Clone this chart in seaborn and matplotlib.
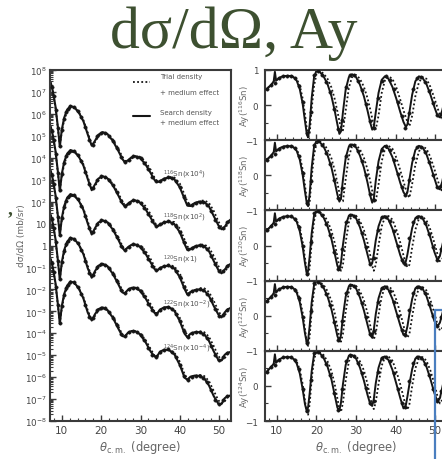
import numpy as np
import pandas as pd
import matplotlib
matplotlib.use("Agg")
import matplotlib.pyplot as plt
import seaborn as sns
from matplotlib.lines import Line2D
from matplotlib.ticker import FixedLocator, MultipleLocator, FuncFormatter, LogLocator, NullFormatter

# ---------------- data ----------------
isotopes = ["116", "118", "120", "122", "124"]
xs_scale_exp = [4, 2, 0, -2, -4]          # cross sections shown x10^k
xs_labels = [r"$^{116}$Sn(x10$^{4}$)", r"$^{118}$Sn(x10$^{2}$)", r"$^{120}$Sn(x1)",
             r"$^{122}$Sn(x10$^{-2}$)", r"$^{124}$Sn(x10$^{-4}$)"]
xs_label_theta = [35.7, 35.7, 35.7, 35.7, 35.7]
xs_label_logy = [3.25, 1.29, -0.63, -2.68, -4.65]

# theta grid of calculated cross sections (deg), values log10(mb/sr), unscaled
th_xs = [7.2, 7.8, 8.4, 9.0, 9.5, 10.0, 10.6, 11.3, 12.2, 13.2, 14.3, 15.5, 16.6, 17.6, 18.4, 19.3,
         20.4, 21.6, 23.0, 24.4, 25.4, 26.0, 26.8, 27.7, 28.6, 29.8, 31.2, 32.6, 33.6, 34.3, 35.0, 36.0,
         37.2, 38.6, 40.0, 41.2, 41.9, 42.7, 43.8, 45.0, 46.2, 47.4, 48.6, 49.8, 50.6, 51.4, 52.2, 53.0]
xs_search_116 = [3.42, 2.97, 2.33, 1.40, 0.50, 1.28, 1.82, 2.17, 2.36, 2.30, 2.07, 1.66, 1.06, 0.55, 0.76, 1.05,
                 1.17, 1.08, 0.76, 0.30, -0.06, -0.20, -0.12, 0.02, 0.07, 0.0, -0.28, -0.70, -1.02, -1.11, -1.06, -0.95,
                 -0.90, -0.98, -1.35, -1.88, -2.18, -2.20, -2.06, -2.00, -2.02, -2.22, -2.65, -3.08, -3.26, -3.15, -2.92, -2.80]
xs_search_118 = [3.41, 2.96, 2.31, 1.37, 0.47, 1.26, 1.81, 2.16, 2.35, 2.29, 2.06, 1.64, 1.03, 0.52, 0.77, 1.05,
                 1.16, 1.06, 0.74, 0.27, -0.09, -0.21, -0.10, 0.02, 0.06, -0.03, -0.32, -0.74, -1.05, -1.12, -1.04, -0.94,
                 -0.91, -1.02, -1.40, -1.93, -2.20, -2.16, -2.04, -2.00, -2.03, -2.26, -2.70, -3.12, -3.27, -3.10, -2.91, -2.83]
xs_search_120 = [3.40, 2.95, 2.30, 1.35, 0.45, 1.25, 1.80, 2.15, 2.34, 2.28, 2.05, 1.62, 1.00, 0.50, 0.78, 1.05,
                 1.15, 1.05, 0.72, 0.25, -0.12, -0.22, -0.08, 0.03, 0.05, -0.05, -0.35, -0.78, -1.08, -1.13, -1.02, -0.94,
                 -0.92, -1.05, -1.45, -1.98, -2.23, -2.12, -2.03, -2.00, -2.05, -2.30, -2.75, -3.15, -3.28, -3.05, -2.90, -2.85]
xs_search_122 = [3.39, 2.94, 2.29, 1.33, 0.44, 1.24, 1.79, 2.15, 2.35, 2.29, 2.05, 1.60, 0.96, 0.53, 0.82, 1.08,
                 1.17, 1.05, 0.70, 0.22, -0.14, -0.18, -0.02, 0.07, 0.08, -0.05, -0.38, -0.82, -1.08, -1.08, -0.92, -0.82,
                 -0.80, -0.98, -1.45, -2.02, -2.18, -2.02, -1.95, -1.95, -2.05, -2.35, -2.82, -3.22, -3.24, -2.98, -2.88, -2.85]
xs_search_124 = [3.38, 2.93, 2.28, 1.32, 0.43, 1.24, 1.79, 2.15, 2.36, 2.30, 2.05, 1.58, 0.94, 0.58, 0.86, 1.10,
                 1.18, 1.05, 0.70, 0.20, -0.13, -0.15, 0.02, 0.10, 0.10, -0.04, -0.38, -0.84, -1.06, -1.02, -0.84, -0.75,
                 -0.76, -0.96, -1.45, -2.02, -2.12, -1.98, -1.93, -1.94, -2.06, -2.38, -2.86, -3.22, -3.22, -2.96, -2.86, -2.84]
xs_trial_116 = [3.42, 2.94, 2.28, 1.34, 0.60, 1.18, 1.72, 2.07, 2.28, 2.27, 2.08, 1.71, 1.14, 0.60, 0.70, 0.97,
                1.13, 1.09, 0.83, 0.40, 0.04, -0.14, -0.17, -0.04, 0.06, 0.05, -0.16, -0.55, -0.92, -1.10, -1.11, -0.98,
                -0.87, -0.90, -1.18, -1.68, -2.00, -2.18, -2.12, -1.98, -1.94, -2.06, -2.42, -2.90, -3.16, -3.24, -3.02, -2.82]
xs_trial_118 = [3.41, 2.93, 2.26, 1.32, 0.57, 1.16, 1.71, 2.06, 2.27, 2.26, 2.07, 1.70, 1.12, 0.57, 0.70, 0.97,
                1.12, 1.08, 0.81, 0.37, 0.01, -0.16, -0.16, -0.03, 0.05, 0.03, -0.19, -0.58, -0.95, -1.11, -1.10, -0.97,
                -0.88, -0.93, -1.23, -1.73, -2.04, -2.18, -2.09, -1.97, -1.95, -2.09, -2.47, -2.94, -3.19, -3.22, -2.98, -2.82]
xs_trial_120 = [3.40, 2.92, 2.25, 1.30, 0.55, 1.15, 1.70, 2.05, 2.26, 2.25, 2.06, 1.68, 1.10, 0.55, 0.70, 0.98,
                1.12, 1.07, 0.80, 0.35, -0.02, -0.18, -0.15, -0.02, 0.05, 0.02, -0.22, -0.62, -0.98, -1.12, -1.08, -0.95,
                -0.88, -0.95, -1.28, -1.78, -2.08, -2.18, -2.06, -1.95, -1.95, -2.12, -2.52, -2.98, -3.22, -3.20, -2.95, -2.82]
xs_trial_122 = [3.39, 2.91, 2.24, 1.28, 0.52, 1.13, 1.69, 2.05, 2.26, 2.25, 2.05, 1.66, 1.07, 0.57, 0.74, 1.01,
                1.13, 1.06, 0.78, 0.32, -0.05, -0.16, -0.10, 0.02, 0.07, 0.01, -0.26, -0.68, -1.02, -1.10, -1.02, -0.88,
                -0.82, -0.92, -1.30, -1.84, -2.10, -2.12, -2.00, -1.92, -1.95, -2.16, -2.58, -3.04, -3.22, -3.14, -2.93, -2.83]
xs_trial_124 = [3.38, 2.90, 2.23, 1.27, 0.50, 1.12, 1.69, 2.05, 2.27, 2.26, 2.05, 1.64, 1.04, 0.60, 0.78, 1.03,
                1.14, 1.06, 0.77, 0.30, -0.06, -0.13, -0.05, 0.06, 0.09, 0.02, -0.28, -0.72, -1.03, -1.06, -0.94, -0.80,
                -0.76, -0.88, -1.30, -1.86, -2.08, -2.06, -1.96, -1.90, -1.95, -2.18, -2.62, -3.06, -3.20, -3.10, -2.90, -2.82]

th_xs_exp = [7.5, 8.0, 8.5, 9.0, 9.5, 10.0, 10.5, 11.0, 11.5, 12.0, 13, 14, 15, 16, 17, 18, 19, 20, 21, 22,
             23, 24, 25, 26, 27, 28, 29, 30, 31, 32, 33, 34, 35, 36, 37, 38, 39, 40, 41, 42,
             43, 44, 45, 46, 47, 48, 49, 50, 51, 52]
xs_exp_116 = [3.22, 2.82, 2.18, 1.35, 0.55, 1.28, 1.78, 2.07, 2.24, 2.34, 2.32, 2.14, 1.85, 1.40, 0.82, 0.60, 0.97, 1.15, 1.14, 1.00,
              0.76, 0.44, 0.05, -0.18, -0.08, 0.06, 0.05, -0.03, -0.24, -0.52, -0.86, -1.08, -1.06, -0.96, -0.90, -0.93, -1.08, -1.35, -1.78, -2.12,
              -2.16, -2.06, -2.00, -2.02, -2.14, -2.42, -2.82, -3.15, -3.22, -2.95]
xs_exp_118 = [3.21, 2.81, 2.16, 1.32, 0.52, 1.26, 1.76, 2.06, 2.23, 2.33, 2.31, 2.13, 1.83, 1.37, 0.80, 0.61, 0.98, 1.15, 1.13, 0.99,
              0.74, 0.42, 0.02, -0.19, -0.06, 0.06, 0.04, -0.05, -0.27, -0.56, -0.89, -1.10, -1.04, -0.94, -0.90, -0.96, -1.12, -1.40, -1.83, -2.16,
              -2.12, -2.04, -1.99, -2.03, -2.17, -2.46, -2.86, -3.18, -3.18, -2.93]
xs_exp_120 = [3.20, 2.80, 2.15, 1.30, 0.50, 1.25, 1.75, 2.05, 2.22, 2.32, 2.30, 2.12, 1.82, 1.35, 0.78, 0.62, 0.98, 1.14, 1.12, 0.98,
              0.72, 0.40, 0.00, -0.20, -0.05, 0.05, 0.03, -0.08, -0.30, -0.60, -0.92, -1.12, -1.02, -0.93, -0.90, -0.98, -1.15, -1.45, -1.88, -2.20,
              -2.08, -2.02, -1.98, -2.05, -2.20, -2.50, -2.90, -3.20, -3.15, -2.92]
xs_exp_122 = [3.19, 2.79, 2.14, 1.28, 0.48, 1.24, 1.74, 2.05, 2.22, 2.33, 2.31, 2.11, 1.80, 1.30, 0.75, 0.66, 1.01, 1.16, 1.12, 0.97,
              0.70, 0.37, -0.04, -0.17, 0.02, 0.08, 0.05, -0.07, -0.32, -0.65, -0.96, -1.10, -0.94, -0.84, -0.80, -0.90, -1.12, -1.45, -1.92, -2.16,
              -2.00, -1.95, -1.95, -2.03, -2.22, -2.56, -2.98, -3.22, -3.08, -2.90]
xs_exp_124 = [3.18, 2.78, 2.13, 1.27, 0.47, 1.24, 1.74, 2.05, 2.22, 2.34, 2.32, 2.12, 1.80, 1.28, 0.72, 0.70, 1.04, 1.17, 1.13, 0.97,
              0.70, 0.36, -0.05, -0.14, 0.06, 0.10, 0.07, -0.06, -0.32, -0.66, -0.98, -1.06, -0.86, -0.76, -0.74, -0.86, -1.10, -1.45, -1.94, -2.12,
              -1.98, -1.93, -1.93, -2.02, -2.24, -2.60, -3.02, -3.22, -3.05, -2.88]

# analyzing power Ay
th_ay = [7.0, 7.8, 8.6, 9.2, 9.5, 9.8, 10.4, 11.2, 12.2, 13.2,
         14.2, 15.0, 15.8, 16.5, 17.1, 17.6, 17.9, 18.3, 18.8, 19.4,
         20.0, 20.8, 21.8, 22.8, 23.8, 24.6, 25.3, 25.8, 26.2, 26.7,
         27.4, 28.2, 29.0, 30.0, 31.0, 32.0, 32.9, 33.6, 34.1, 34.5,
         35.0, 35.7, 36.5, 37.3, 38.2, 39.2, 40.2, 41.2, 42.0, 42.6,
         43.0, 43.5, 44.2, 45.0, 45.9, 46.8, 47.8, 48.8, 49.8, 50.6,
         51.2, 51.8, 52.5, 53.0]
ay_search_116 = [0.42, 0.50, 0.58, 0.68, 0.95, 0.70, 0.76, 0.81, 0.83, 0.83,
                 0.80, 0.70, 0.45, 0.05, -0.45, -0.85, -0.92, -0.55, 0.20, 0.80,
                 0.98, 0.95, 0.82, 0.60, 0.25, -0.15, -0.55, -0.82, -0.75, -0.20,
                 0.45, 0.80, 0.88, 0.80, 0.58, 0.25, -0.15, -0.50, -0.70, -0.62,
                 -0.20, 0.35, 0.72, 0.82, 0.75, 0.52, 0.18, -0.20, -0.48, -0.62,
                 -0.55, -0.20, 0.30, 0.68, 0.82, 0.78, 0.60, 0.30, -0.05, -0.30,
                 -0.35, -0.15, 0.20, 0.40]
ay_search_118 = [0.40, 0.48, 0.57, 0.66, 0.93, 0.68, 0.75, 0.80, 0.83, 0.83,
                 0.80, 0.70, 0.44, 0.03, -0.46, -0.82, -0.88, -0.52, 0.22, 0.82,
                 0.98, 0.95, 0.82, 0.58, 0.22, -0.18, -0.55, -0.75, -0.66, -0.12,
                 0.50, 0.82, 0.88, 0.80, 0.56, 0.22, -0.20, -0.58, -0.78, -0.66,
                 -0.15, 0.40, 0.75, 0.84, 0.76, 0.52, 0.16, -0.22, -0.48, -0.58,
                 -0.48, -0.12, 0.36, 0.72, 0.84, 0.80, 0.60, 0.28, -0.08, -0.36,
                 -0.40, -0.18, 0.22, 0.42]
ay_search_120 = [0.38, 0.47, 0.56, 0.65, 0.92, 0.68, 0.75, 0.80, 0.83, 0.83,
                 0.79, 0.68, 0.40, -0.02, -0.50, -0.83, -0.72, -0.30, 0.35, 0.86,
                 0.99, 0.94, 0.80, 0.55, 0.18, -0.22, -0.58, -0.70, -0.50, 0.02,
                 0.58, 0.85, 0.88, 0.78, 0.52, 0.15, -0.25, -0.55, -0.50, -0.25,
                 0.15, 0.55, 0.80, 0.84, 0.74, 0.48, 0.10, -0.28, -0.52, -0.45,
                 -0.25, 0.08, 0.50, 0.78, 0.84, 0.78, 0.56, 0.22, -0.18, -0.42,
                 -0.30, 0.00, 0.35, 0.50]
ay_search_122 = [0.36, 0.46, 0.55, 0.64, 0.90, 0.66, 0.74, 0.79, 0.82, 0.82,
                 0.78, 0.66, 0.38, -0.04, -0.50, -0.80, -0.70, -0.28, 0.38, 0.88,
                 0.99, 0.94, 0.80, 0.55, 0.18, -0.22, -0.58, -0.73, -0.55, -0.02,
                 0.55, 0.84, 0.88, 0.78, 0.52, 0.15, -0.25, -0.55, -0.63, -0.40,
                 0.05, 0.50, 0.78, 0.84, 0.74, 0.48, 0.10, -0.28, -0.55, -0.50,
                 -0.30, 0.05, 0.48, 0.78, 0.84, 0.78, 0.56, 0.22, -0.15, -0.30,
                 -0.20, 0.05, 0.38, 0.52]
ay_search_124 = [0.35, 0.45, 0.55, 0.63, 0.90, 0.66, 0.74, 0.79, 0.82, 0.82,
                 0.77, 0.64, 0.35, -0.08, -0.52, -0.74, -0.60, -0.20, 0.42, 0.90,
                 0.99, 0.94, 0.80, 0.55, 0.18, -0.25, -0.62, -0.70, -0.48, 0.05,
                 0.60, 0.86, 0.88, 0.78, 0.52, 0.15, -0.25, -0.52, -0.57, -0.38,
                 0.08, 0.52, 0.80, 0.84, 0.74, 0.46, 0.06, -0.35, -0.64, -0.55,
                 -0.30, 0.05, 0.48, 0.78, 0.84, 0.78, 0.55, 0.20, -0.20, -0.46,
                 -0.35, -0.05, 0.32, 0.50]
ay_trial_116 = [0.42, 0.50, 0.58, 0.66, 0.80, 0.70, 0.75, 0.80, 0.83, 0.84,
                0.82, 0.75, 0.55, 0.20, -0.25, -0.70, -0.92, -0.80, -0.10, 0.55,
                0.88, 0.97, 0.90, 0.75, 0.50, 0.18, -0.18, -0.45, -0.65, -0.72,
                -0.15, 0.50, 0.80, 0.86, 0.75, 0.52, 0.20, -0.12, -0.38, -0.58,
                -0.68, -0.30, 0.35, 0.70, 0.82, 0.75, 0.50, 0.15, -0.15, -0.35,
                -0.48, -0.60, -0.30, 0.25, 0.65, 0.80, 0.75, 0.52, 0.20, -0.08,
                -0.28, -0.42, -0.10, 0.25]
ay_trial_118 = [0.40, 0.48, 0.57, 0.65, 0.78, 0.69, 0.74, 0.80, 0.83, 0.84,
                0.82, 0.74, 0.54, 0.18, -0.28, -0.72, -0.90, -0.76, -0.06, 0.58,
                0.90, 0.97, 0.90, 0.74, 0.48, 0.15, -0.22, -0.50, -0.70, -0.74,
                -0.10, 0.54, 0.82, 0.86, 0.74, 0.50, 0.17, -0.16, -0.44, -0.66,
                -0.74, -0.26, 0.40, 0.74, 0.84, 0.76, 0.50, 0.14, -0.18, -0.40,
                -0.54, -0.64, -0.24, 0.30, 0.68, 0.82, 0.76, 0.52, 0.18, -0.12,
                -0.34, -0.46, -0.08, 0.28]
ay_trial_120 = [0.38, 0.47, 0.56, 0.64, 0.77, 0.68, 0.74, 0.80, 0.83, 0.84,
                0.81, 0.72, 0.50, 0.12, -0.35, -0.78, -0.88, -0.62, 0.10, 0.70,
                0.95, 0.96, 0.88, 0.70, 0.42, 0.08, -0.32, -0.62, -0.72, -0.55,
                0.10, 0.66, 0.86, 0.85, 0.70, 0.44, 0.08, -0.28, -0.58, -0.72,
                -0.55, 0.00, 0.55, 0.80, 0.84, 0.74, 0.45, 0.08, -0.28, -0.52,
                -0.62, -0.55, -0.05, 0.45, 0.76, 0.82, 0.72, 0.45, 0.08, -0.25,
                -0.45, -0.40, 0.05, 0.38]
ay_trial_122 = [0.36, 0.46, 0.55, 0.63, 0.76, 0.67, 0.73, 0.79, 0.82, 0.83,
                0.80, 0.71, 0.48, 0.10, -0.38, -0.80, -0.86, -0.58, 0.14, 0.72,
                0.95, 0.96, 0.88, 0.70, 0.42, 0.08, -0.32, -0.62, -0.74, -0.52,
                0.12, 0.68, 0.86, 0.85, 0.70, 0.44, 0.08, -0.28, -0.56, -0.68,
                -0.50, 0.02, 0.56, 0.80, 0.84, 0.74, 0.45, 0.08, -0.28, -0.52,
                -0.62, -0.52, -0.02, 0.48, 0.78, 0.82, 0.72, 0.45, 0.08, -0.25,
                -0.42, -0.35, 0.08, 0.40]
ay_trial_124 = [0.35, 0.45, 0.55, 0.62, 0.76, 0.67, 0.73, 0.79, 0.82, 0.83,
                0.79, 0.70, 0.46, 0.06, -0.42, -0.80, -0.82, -0.50, 0.20, 0.76,
                0.96, 0.96, 0.88, 0.70, 0.42, 0.06, -0.36, -0.66, -0.74, -0.48,
                0.16, 0.70, 0.87, 0.85, 0.70, 0.44, 0.06, -0.32, -0.58, -0.66,
                -0.46, 0.06, 0.58, 0.81, 0.84, 0.72, 0.42, 0.04, -0.32, -0.58,
                -0.68, -0.52, 0.00, 0.50, 0.78, 0.82, 0.72, 0.44, 0.06, -0.30,
                -0.50, -0.40, 0.05, 0.38]

th_ay_exp = [7.5, 8.5, 9.5, 10.5, 11.5, 12.5, 13.5, 14.5, 15.5, 16.5, 17.5, 18.5, 19.5, 20.5, 21.5,
             22.5, 23.5, 24.5, 25.5, 26.5, 27.5, 28.5, 29.5, 30.5, 31.5, 32.5, 33.5, 34.5, 35.5, 36.5,
             37.5, 38.5, 39.5, 40.5, 41.5, 42.5, 43.5, 44.5, 45.5, 46.5, 47.5, 48.5, 49.5, 50.5, 51.5]
ay_exp_116 = [0.47, 0.57, 0.62, 0.77, 0.82, 0.84, 0.83, 0.77, 0.55, 0.08, -0.80, -0.20, 0.85, 0.97, 0.86,
              0.66, 0.36, -0.10, -0.68, -0.42, 0.52, 0.85, 0.86, 0.70, 0.42, 0.03, -0.45, -0.66, 0.20, 0.70,
              0.82, 0.72, 0.45, 0.08, -0.30, -0.64, -0.22, 0.45, 0.78, 0.80, 0.66, 0.40, 0.05, -0.28, -0.25]
ay_exp_118 = [0.45, 0.56, 0.62, 0.76, 0.82, 0.84, 0.83, 0.77, 0.55, 0.06, -0.78, -0.15, 0.86, 0.97, 0.86,
              0.64, 0.33, -0.12, -0.66, -0.35, 0.56, 0.86, 0.86, 0.70, 0.40, 0.00, -0.52, -0.70, 0.25, 0.73,
              0.83, 0.72, 0.44, 0.05, -0.32, -0.56, -0.14, 0.50, 0.80, 0.82, 0.66, 0.38, 0.02, -0.34, -0.30]
ay_exp_120 = [0.43, 0.55, 0.60, 0.76, 0.82, 0.84, 0.83, 0.75, 0.52, -0.02, -0.80, 0.10, 0.92, 0.97, 0.86,
              0.62, 0.30, -0.18, -0.66, -0.10, 0.68, 0.88, 0.85, 0.66, 0.36, -0.05, -0.52, -0.35, 0.45, 0.80,
              0.82, 0.70, 0.40, -0.02, -0.40, -0.52, 0.20, 0.68, 0.82, 0.80, 0.64, 0.34, -0.05, -0.40, -0.10]
ay_exp_122 = [0.42, 0.54, 0.60, 0.75, 0.81, 0.83, 0.82, 0.74, 0.50, -0.04, -0.78, 0.12, 0.94, 0.97, 0.86,
              0.62, 0.30, -0.18, -0.70, -0.15, 0.66, 0.87, 0.85, 0.66, 0.36, -0.05, -0.52, -0.45, 0.38, 0.78,
              0.82, 0.70, 0.40, -0.02, -0.42, -0.54, 0.16, 0.66, 0.82, 0.80, 0.64, 0.34, -0.02, -0.28, -0.05]
ay_exp_124 = [0.41, 0.54, 0.60, 0.75, 0.81, 0.83, 0.82, 0.73, 0.47, -0.08, -0.72, 0.18, 0.95, 0.97, 0.86,
              0.62, 0.30, -0.20, -0.68, -0.10, 0.70, 0.88, 0.85, 0.66, 0.36, -0.05, -0.50, -0.42, 0.40, 0.80,
              0.82, 0.70, 0.38, -0.08, -0.50, -0.60, 0.15, 0.66, 0.82, 0.80, 0.62, 0.32, -0.08, -0.42, -0.15]

xs_search = [xs_search_116, xs_search_118, xs_search_120, xs_search_122, xs_search_124]
xs_trial = [xs_trial_116, xs_trial_118, xs_trial_120, xs_trial_122, xs_trial_124]
xs_exp = [xs_exp_116, xs_exp_118, xs_exp_120, xs_exp_122, xs_exp_124]
ay_search = [ay_search_116, ay_search_118, ay_search_120, ay_search_122, ay_search_124]
ay_trial = [ay_trial_116, ay_trial_118, ay_trial_120, ay_trial_122, ay_trial_124]
ay_exp = [ay_exp_116, ay_exp_118, ay_exp_120, ay_exp_122, ay_exp_124]

# ---------------- style ----------------
sns.set_theme(style="ticks")
plt.rcParams['font.family'] = ['DejaVu Sans']
plt.rcParams['mathtext.fontset'] = 'dejavusans'
plt.rcParams['axes.unicode_minus'] = True

W, H = 442, 460
fig = plt.figure(figsize=(W / 100, H / 100), dpi=100)
fig.patch.set_facecolor("white")


def frame(l, t, r, b):
    return [l / W, 1 - b / H, (r - l) / W, (b - t) / H]


INK = "#151515"
GREY = "#555555"
SPINE = "#3a3a3a"

# title
fig.text(234 / W, 1 - 48 / H, "d\u03c3/d\u03a9, Ay", ha="center", va="baseline",
         fontsize=43, color="#3d5030", family=["Liberation Serif", "DejaVu Serif"])
fig.text(10 / W, 1 - 214 / H, ",", ha="center", va="baseline", fontsize=14,
         color="#3d5030", family=["Liberation Serif"], fontweight="bold")

# ---------------- left: cross sections ----------------
ax = fig.add_axes(frame(50, 71, 231, 422))
for k, iso in enumerate(isotopes):
    sc = 10.0 ** xs_scale_exp[k]
    df_s = pd.DataFrame({"theta": th_xs, "xs": 10.0 ** np.array(xs_search[k]) * sc})
    df_t = pd.DataFrame({"theta": th_xs, "xs": 10.0 ** np.array(xs_trial[k]) * sc})
    df_e = pd.DataFrame({"theta": th_xs_exp, "xs": 10.0 ** np.array(xs_exp[k]) * sc})
    sns.lineplot(data=df_t, x="theta", y="xs", ax=ax, sort=False, estimator=None,
                 color=INK, lw=1.3, linestyle=(0, (1, 1.3)))
    sns.lineplot(data=df_s, x="theta", y="xs", ax=ax, sort=False, estimator=None,
                 color=INK, lw=1.5)
    sns.scatterplot(data=df_e, x="theta", y="xs", ax=ax, color=INK, s=6,
                    marker="o", edgecolor=INK, linewidth=0.3, zorder=3)
    ax.text(xs_label_theta[k], 10.0 ** xs_label_logy[k], xs_labels[k], fontsize=5.2,
            color=GREY, ha="left", va="center")

ax.set_yscale("log")
ax.set_xlim(7, 53)
ax.set_ylim(1e-8, 1e8)
ax.yaxis.set_major_locator(FixedLocator([10.0 ** e for e in range(-8, 9)]))
ax.yaxis.set_minor_locator(LogLocator(base=10, subs=np.arange(2, 10), numticks=40))
ax.yaxis.set_minor_formatter(NullFormatter())


def logfmt(v, pos):
    e = int(round(np.log10(v)))
    if e == 0:
        return "1"
    if e == 1:
        return "10"
    return r"$10^{%d}$" % e


ax.yaxis.set_major_formatter(FuncFormatter(logfmt))
ax.xaxis.set_major_locator(MultipleLocator(10))
ax.xaxis.set_minor_locator(MultipleLocator(2))
ax.tick_params(axis="both", which="major", direction="in", length=4, width=1.0,
               labelsize=6.3, labelcolor="#444444", color=SPINE, pad=2.5)
ax.tick_params(axis="both", which="minor", direction="in", length=2, width=0.8, color=SPINE)
ax.tick_params(axis="x", labelsize=7.5, pad=3)
for s in ax.spines.values():
    s.set_linewidth(1.5)
    s.set_color(SPINE)
ax.set_xlabel(r"$\theta_{\mathrm{c.m.}}$ (degree)", fontsize=8.3, color="#666666", labelpad=2)
ax.set_ylabel("d\u03c3/d\u03a9 (mb/sr)", fontsize=6.5, color="#666666")
ax.yaxis.set_label_coords(-0.13, 0.53)

# legend (drawn by hand to mimic layout)
ax.add_line(Line2D([0.46, 0.555], [0.965, 0.965], transform=ax.transAxes, color=INK,
                   lw=1.3, linestyle=(0, (1, 1.3))))
ax.add_line(Line2D([0.46, 0.555], [0.869, 0.869], transform=ax.transAxes, color=INK, lw=1.5))
for txt, yy in [("Trial density", 0.983), ("+ medium effect", 0.937),
                ("Search density", 0.881), ("+ medium effect", 0.852)]:
    ax.text(0.61, yy, txt, transform=ax.transAxes, fontsize=5.0, color=GREY,
            ha="left", va="center")

# ---------------- right: analyzing powers ----------------
top0 = 71.0
ph = 70.2
ay_ylabels = [r"Ay($^{116}$Sn)", r"Ay($^{118}$Sn)", r"Ay($^{120}$Sn)",
              r"Ay($^{122}$Sn)", r"Ay($^{124}$Sn)"]
axes_r = []
for k, iso in enumerate(isotopes):
    t = top0 + k * ph
    a = fig.add_axes(frame(265, t, 447, t + ph))
    axes_r.append(a)
    df_s = pd.DataFrame({"theta": th_ay, "ay": ay_search[k]})
    df_t = pd.DataFrame({"theta": th_ay, "ay": ay_trial[k]})
    df_e = pd.DataFrame({"theta": th_ay_exp, "ay": ay_exp[k]})
    sns.lineplot(data=df_t, x="theta", y="ay", ax=a, sort=False, estimator=None,
                 color=INK, lw=1.3, linestyle=(0, (1, 1.3)))
    sns.lineplot(data=df_s, x="theta", y="ay", ax=a, sort=False, estimator=None,
                 color=INK, lw=1.4)
    sns.scatterplot(data=df_e, x="theta", y="ay", ax=a, color=INK, s=6, marker="o",
                    edgecolor=INK, linewidth=0.3, zorder=3)
    a.set_xlim(7, 53)
    a.set_ylim(-1, 1)
    a.set_yticks([-1, 0, 1])
    a.set_yticklabels(["\u22121", "0", "1" if k == 0 else ""])
    a.yaxis.set_minor_locator(FixedLocator([-0.5, 0.5]))
    a.xaxis.set_major_locator(MultipleLocator(10))
    a.xaxis.set_minor_locator(MultipleLocator(2))
    a.tick_params(axis="both", which="major", direction="in", length=4, width=1.0,
                  labelsize=6.3, labelcolor="#444444", color=SPINE, pad=5)
    a.tick_params(axis="both", which="minor", direction="in", length=2, width=0.8, color=SPINE)
    for s in a.spines.values():
        s.set_linewidth(1.5)
        s.set_color(SPINE)
    a.set_ylabel(ay_ylabels[k], fontsize=6.2, color="#666666")
    a.yaxis.set_label_coords(-0.07, 0.5)
    if k < 4:
        a.tick_params(axis="x", labelbottom=False)
        a.set_xlabel("")
    else:
        a.tick_params(axis="x", labelsize=7.5, pad=3)
        a.set_xlabel(r"$\theta_{\mathrm{c.m.}}$ (degree)", fontsize=8.3, color="#666666", labelpad=2)

# blue overlay line from slide
fig.add_artist(Line2D([434.5 / W, 434.5 / W], [1 - 311 / H, 0.0], transform=fig.transFigure,
                      color="#4a7ebf", lw=1.6))
fig.add_artist(Line2D([434.5 / W, 1.0], [1 - 311 / H, 1 - 311 / H], transform=fig.transFigure,
                      color="#4a7ebf", lw=1.6))

fig.savefig("out.png", dpi=100, facecolor="white")
